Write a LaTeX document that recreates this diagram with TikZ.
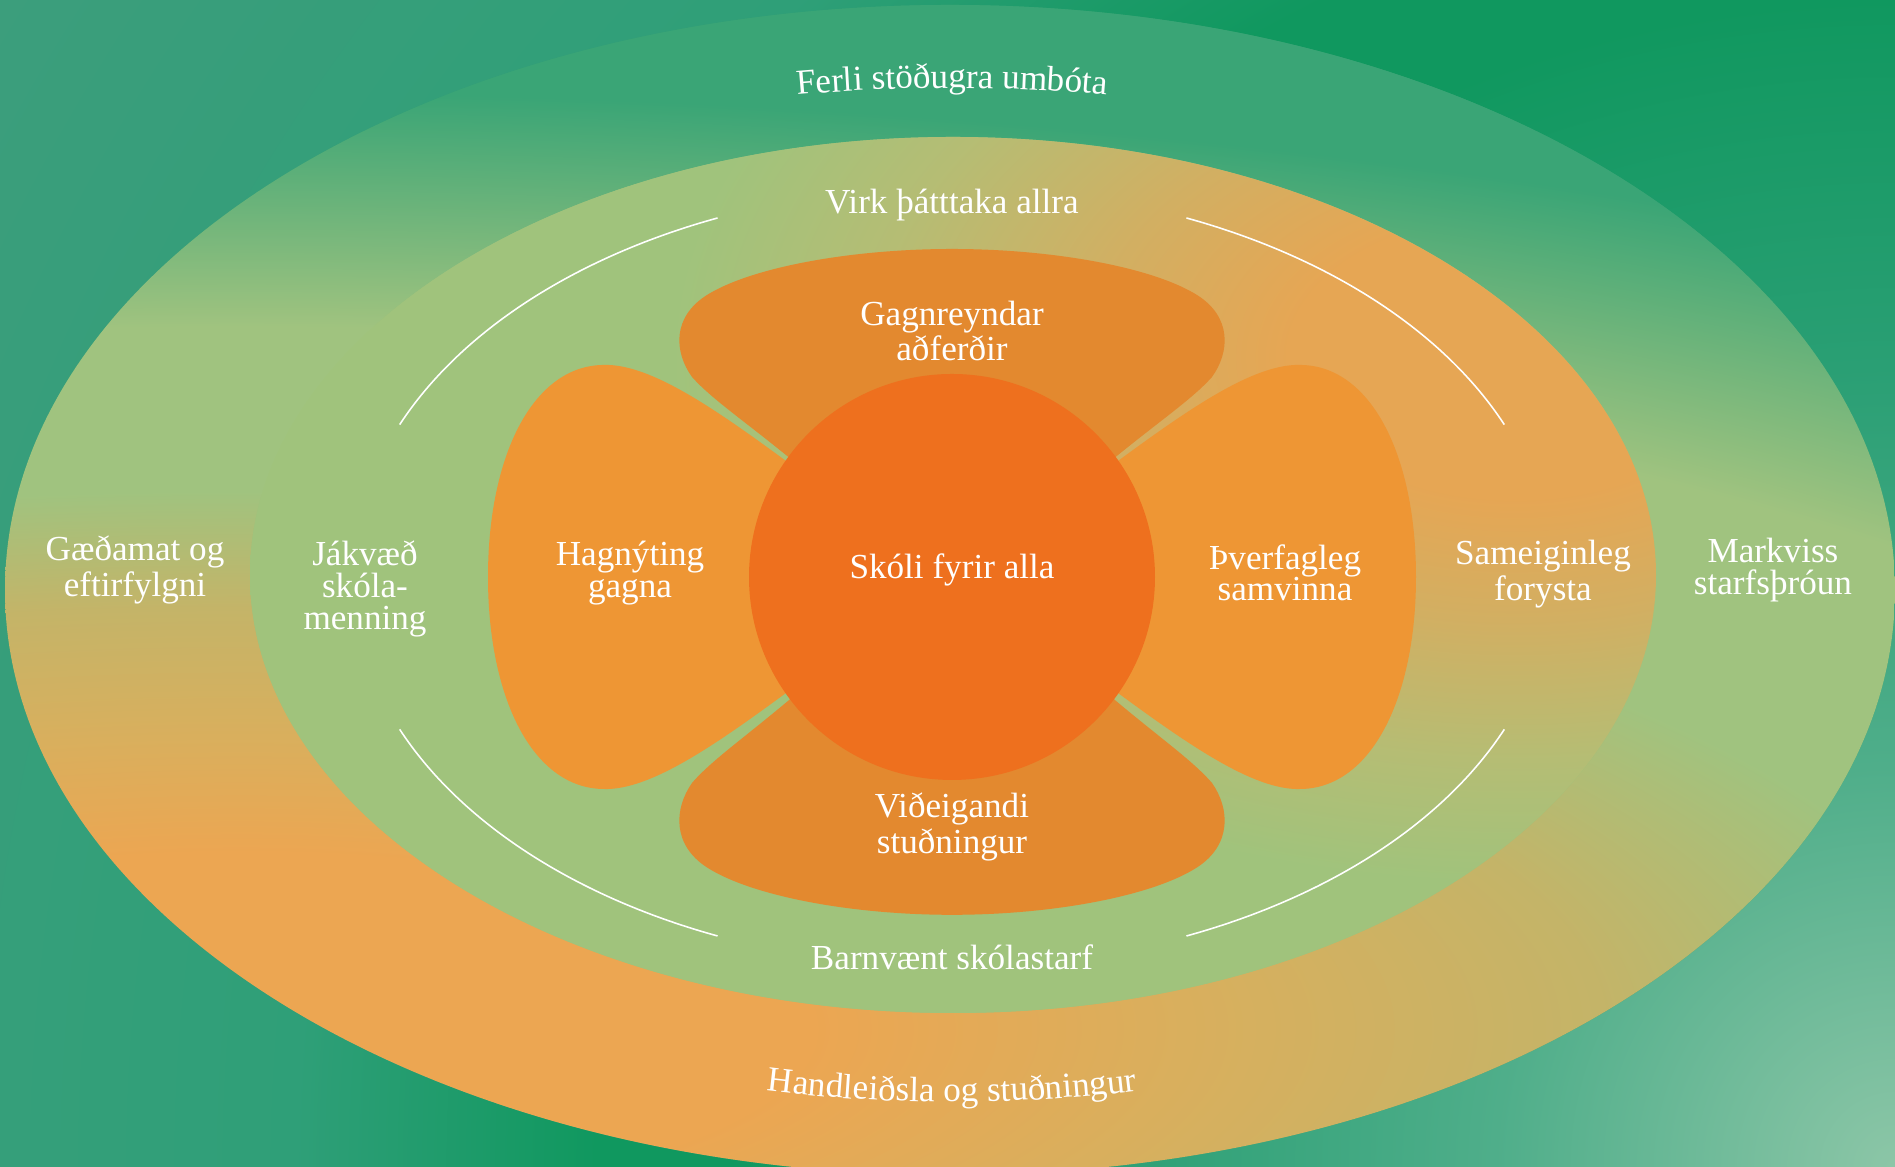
\documentclass[tikz,border=0pt]{standalone}
\usepackage{fontspec}
\setmainfont{Liberation Serif}
\usetikzlibrary{positioning, decorations.text}

\definecolor{bgcorner}{HTML}{8CC6A7}
\definecolor{bgsoft}{HTML}{4FAE8A}
\definecolor{bgmid}{HTML}{2A9F74}
\definecolor{bgdark}{HTML}{10985F}
\definecolor{bgleft}{HTML}{2F9F78}
\definecolor{bgfar}{HTML}{3C9E7C}
\definecolor{outerorange}{HTML}{ECA652}
\definecolor{outerwarm}{HTML}{D9AF5D}
\definecolor{outertan}{HTML}{C4B468}
\definecolor{outermid}{HTML}{A0C37F}
\definecolor{outergreen}{HTML}{3AA576}
\definecolor{innerorange}{HTML}{E6A654}
\definecolor{innertan}{HTML}{D2AF62}
\definecolor{inneryellow}{HTML}{B5BD74}
\definecolor{innergreen}{HTML}{A0C37C}
\definecolor{petaltb}{HTML}{E3892F}
\definecolor{petallr}{HTML}{EE9634}
\definecolor{hubfill}{HTML}{EE701E}

\pgfdeclareradialshading{bgblob}{\pgfpointorigin}{color(0bp)=(bgcorner); color(4.35bp)=(bgsoft);
  color(8.7bp)=(bgmid); color(12.7bp)=(bgdark); color(14.1bp)=(bgdark); color(17.4bp)=(bgleft);
  color(24.2bp)=(bgfar); color(50bp)=(bgfar)}
\pgfdeclareradialshading{outerblob}{\pgfpointorigin}{color(0bp)=(outerorange); color(3.75bp)=(outerorange);
  color(6.25bp)=(outerwarm); color(9bp)=(outertan); color(11.5bp)=(outermid); color(15bp)=(outermid);
  color(20bp)=(outergreen); color(50bp)=(outergreen)}
\pgfdeclareradialshading{innerblob}{\pgfpointorigin}{color(0bp)=(innerorange); color(4bp)=(innerorange);
  color(7.5bp)=(innertan); color(11.5bp)=(inneryellow); color(15bp)=(innergreen); color(50bp)=(innergreen)}

% petal outlines, relative to the centre of the flower
\newcommand{\toppetal}{(-1.2,0.83) .. controls (-1.9,1.45) and (-2.35,1.72) .. (-2.6,2.0)
  .. controls (-2.78,2.25) and (-2.8,2.6) .. (-2.45,2.82)
  .. controls (-2.0,3.1) and (-1.0,3.28) .. (0,3.28)
  .. controls (1.0,3.28) and (2.0,3.1) .. (2.45,2.82)
  .. controls (2.8,2.6) and (2.78,2.25) .. (2.6,2.0)
  .. controls (2.35,1.72) and (1.9,1.45) .. (1.2,0.83) -- cycle}
\newcommand{\sidepetal}{(-0.9,0.6) .. controls (-2.0,1.4) and (-2.9,2.15) .. (-3.5,2.12)
  .. controls (-4.2,2.1) and (-4.64,1.2) .. (-4.64,0)
  .. controls (-4.64,-1.2) and (-4.2,-2.1) .. (-3.5,-2.12)
  .. controls (-2.9,-2.15) and (-2.0,-1.4) .. (-0.9,-0.6) -- cycle}

\begin{document}
\begin{tikzpicture}[
  word/.style={text=white, align=center, inner sep=0pt, font=\fontsize{10}{9}\selectfont},
  guide/.style={draw=white, line width=0.45pt},
  curved/.style={decorate, decoration={text along path, text align=center, text color=white, text={|\fontsize{10}{9}\selectfont|#1}}}
]
  \useasboundingbox (0,0) rectangle (18.95,11.67);
  \clip (0,0) rectangle (18.95,11.67);

  % background
  \fill[bgfar] (0,0) rectangle (18.95,11.67);
  \shade[shading=bgblob] (18.95,0) circle (23);

  % outer ring
  \begin{scope}
    \clip (9.50,5.77) ellipse [x radius=9.45, y radius=5.85];
    \fill[outergreen] (0,0) rectangle (18.95,11.67);
    \shade[shading=outerblob] (2.41,1.38) ellipse [x radius=37.8, y radius=11.7];
  \end{scope}

  % inner ring
  \begin{scope}
    \clip (9.53,5.92) ellipse [x radius=7.03, y radius=4.38];
    \fill[innergreen] (0,0) rectangle (18.95,11.67);
    \shade[shading=innerblob] (15.15,8.1) ellipse [x radius=14.06, y radius=8.76];
  \end{scope}

  % petals and centre
  \begin{scope}[shift={(9.52,5.90)}]
    \fill[petaltb] \toppetal;
    \fill[petaltb, yscale=-1.03] \toppetal;
    \fill[petallr] \sidepetal;
    \fill[petallr, xscale=-1] \sidepetal;
  \end{scope}
  \node[circle, fill=hubfill, minimum size=4.06cm, inner sep=0pt] (hub) at (9.52,5.90) {};

  % thin arcs
  \draw[guide] (hub.center) ++(113:6.0 and 3.9) arc[start angle=113, end angle=157, x radius=6.0, y radius=3.9];
  \draw[guide] (hub.center) ++(23:6.0 and 3.9) arc[start angle=23, end angle=67, x radius=6.0, y radius=3.9];
  \draw[guide] (hub.center) ++(203:6.0 and 3.9) arc[start angle=203, end angle=247, x radius=6.0, y radius=3.9];
  \draw[guide] (hub.center) ++(293:6.0 and 3.9) arc[start angle=293, end angle=337, x radius=6.0, y radius=3.9];

  % labels
  \node[word] (skoli) at (9.52,5.97) {Skóli fyrir alla};
  \node[word] (gagnreyndar) at (9.52,8.36) {Gagnreyndar\\aðferðir};
  \node[word] (videigandi) at (9.52,3.40) {Viðeigandi\\stuðningur};
  \node[word] (hagnyting) at (6.30,5.94) {Hagnýting\\gagna};
  \node[word] (thverfagleg) at (12.85,5.94) {Þverfagleg\\samvinna};
  \node[word] (virk) at (9.52,9.62) {Virk þátttaka allra};
  \node[word] (barnvaent) at (9.52,2.10) {Barnvænt skólastarf};
  \node[word] (jakvaed) at (3.65,5.78) {Jákvæð\\skóla-\\menning};
  \node[word] (sameiginleg) at (15.43,5.93) {Sameiginleg\\forysta};
  \node[word] (gaedamat) at (1.35,5.97) {Gæðamat og\\eftirfylgni};
  \node[word] (markviss) at (17.73,5.97) {Markviss\\starfsþróun};

  \path[curved=Ferli stöðugra umbóta] (hub.center) ++(118:9.3 and 4.89)
    arc[start angle=118, end angle=62, x radius=9.3, y radius=4.89];
  \path[curved=Handleiðsla og stuðningur] (hub.center) ++(240:9.0 and 5.25)
    arc[start angle=240, end angle=300, x radius=9.0, y radius=5.25];
\end{tikzpicture}
\end{document}
